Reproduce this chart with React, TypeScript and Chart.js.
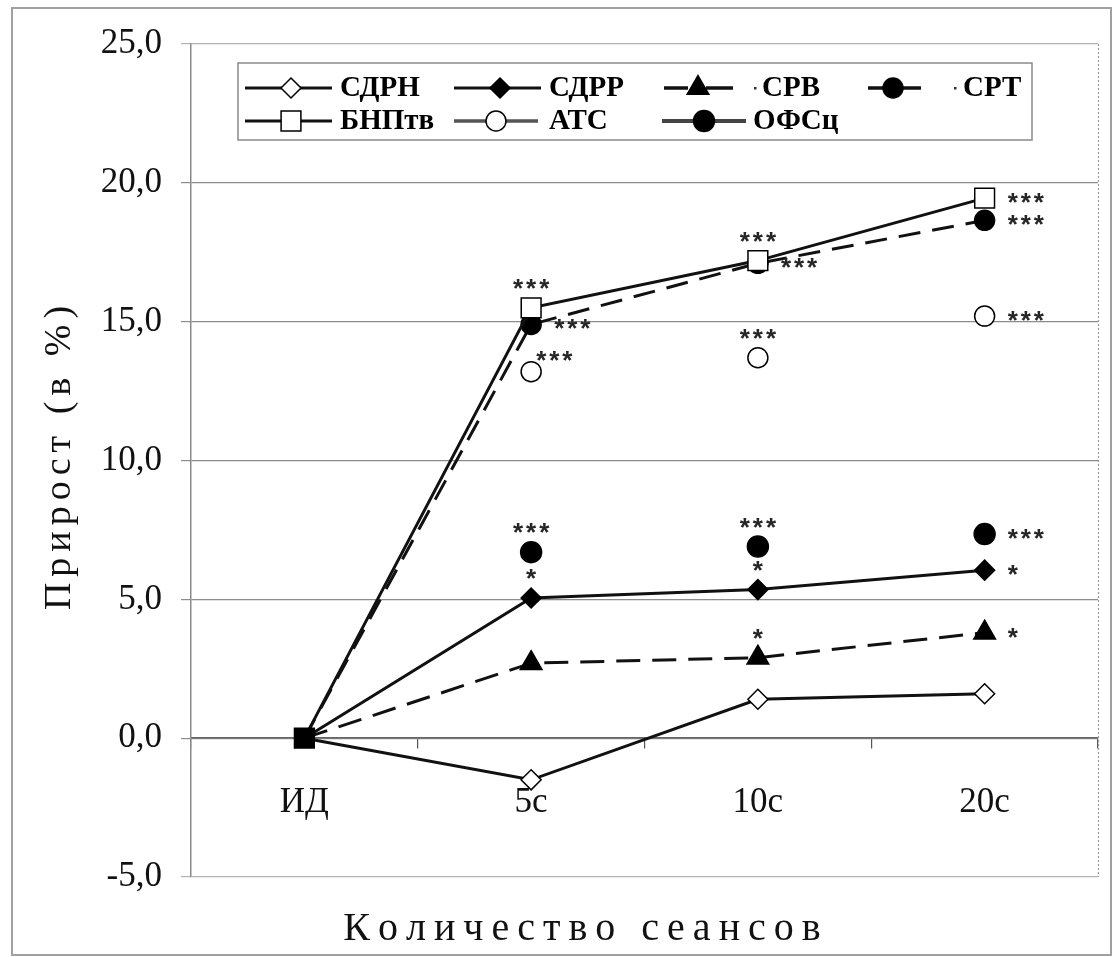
import React, { useEffect, useRef } from 'react';
import { Chart, registerables } from 'chart.js';

Chart.register(...registerables);

const CANVAS_W = 1115;
const CANVAS_H = 957;

// ---------- data ----------
const categories = ['ИД', '5с', '10с', '20с'];
const yMin = -5;
const yMax = 25;
const yStep = 5;

const sdrnValues = [0, -1.5, 1.4, 1.6];
const sdrrValues = [0, 5.05, 5.35, 6.05];
const srvValues = [0, 2.7, 2.9, 3.8];
const srtValues = [0, 14.9, 17.1, 18.65];
const bnpValues = [0, 15.5, 17.2, 19.45];
const atsValues = [0, 13.2, 13.7, 15.2];
const ofsValues = [0, 6.7, 6.9, 7.35];

const seriesNames = ['СДРН', 'СДРР', 'СРВ', 'СРТ', 'БНПтв', 'АТС', 'ОФСц'];
const seriesValues = [sdrnValues, sdrrValues, srvValues, srtValues, bnpValues, atsValues, ofsValues];

// significance marks: series, category index, text, placement
const markSeries = ['БНПтв', 'СРТ', 'АТС', 'БНПтв', 'СРТ', 'АТС', 'БНПтв', 'СРТ', 'АТС', 'ОФСц', 'ОФСц', 'ОФСц', 'СДРР', 'СДРР', 'СДРР', 'СРВ', 'СРВ'];
const markCategory = [1, 1, 1, 2, 2, 2, 3, 3, 3, 1, 2, 3, 1, 2, 3, 2, 3];
const markText = ['***', '***', '***', '***', '***', '***', '***', '***', '***', '***', '***', '***', '*', '*', '*', '*', '*'];
const markPlace = ['above', 'right', 'upRight', 'above', 'right', 'above', 'right', 'right', 'right', 'above', 'above', 'right', 'above', 'above', 'right', 'above', 'right'];

const yTitle = 'Прирост (в %)';
const xTitle = 'Количество сеансов';

// ---------- styles ----------
const LINE = '#111111';
const GRID = '#8c8c8c';

const seriesLook = [
  { shape: 'rectRot', fill: '#ffffff', r: 10, dash: [] as number[], line: true, legendColor: LINE, legendWidth: 3 },
  { shape: 'rectRot', fill: '#000000', r: 10, dash: [] as number[], line: true, legendColor: LINE, legendWidth: 3 },
  { shape: 'triangle', fill: '#000000', r: 12.5, dash: [24, 12], line: true, legendColor: LINE, legendWidth: 3.5 },
  { shape: 'circle', fill: '#000000', r: 10, dash: [22, 12], line: true, legendColor: LINE, legendWidth: 3.5 },
  { shape: 'rect', fill: '#ffffff', r: 14, dash: [] as number[], line: true, legendColor: LINE, legendWidth: 3 },
  { shape: 'circle', fill: '#ffffff', r: 10, dash: [] as number[], line: false, legendColor: '#555555', legendWidth: 3.5 },
  { shape: 'circle', fill: '#000000', r: 10.5, dash: [] as number[], line: false, legendColor: '#444444', legendWidth: 4 },
];

const legendBox = { x: 238, y: 63, w: 794, h: 77 };
const legendRows = [88, 121];
const legendLayout = [
  { row: 0, x0: 245, x1: 332, mx: 291, tx: 340, dot: 0 },
  { row: 0, x0: 454, x1: 541, mx: 500, tx: 549, dot: 0 },
  { row: 0, x0: 664, x1: 733, mx: 698, tx: 762, dot: 755 },
  { row: 0, x0: 868, x1: 921, mx: 893, tx: 963, dot: 955 },
  { row: 1, x0: 245, x1: 332, mx: 291, tx: 340, dot: 0 },
  { row: 1, x0: 454, x1: 538, mx: 496, tx: 549, dot: 0 },
  { row: 1, x0: 662, x1: 746, mx: 704, tx: 753, dot: 0 },
];

const markOffsets: Record<string, { dx: number; dy: number; align: string }> = {
  above: { dx: 0, dy: -24, align: 'center' },
  right: { dx: 23, dy: 0, align: 'left' },
  upRight: { dx: 5, dy: -16, align: 'left' },
};

const SERIF = '"Liberation Serif", "Times New Roman", serif';
const SANS = '"Liberation Sans", Arial, sans-serif';

function drawSpaced(ctx: CanvasRenderingContext2D, text: string, x: number, y: number, spacing: number, align: string) {
  const chars = Array.from(text);
  const widths = chars.map((c) => ctx.measureText(c).width);
  const total = widths.reduce((a, b) => a + b, 0) + spacing * (chars.length - 1);
  let cx = align === 'center' ? x - total / 2 : x;
  ctx.textAlign = 'left';
  chars.forEach((c, i) => {
    ctx.fillText(c, cx, y);
    cx += widths[i] + spacing;
  });
}

function drawMarker(ctx: CanvasRenderingContext2D, shape: string, x: number, y: number, r: number, fill: string) {
  ctx.save();
  ctx.setLineDash([]);
  ctx.beginPath();
  if (shape === 'circle') {
    ctx.arc(x, y, r, 0, Math.PI * 2);
  } else if (shape === 'rect') {
    const s = Math.SQRT1_2 * r;
    ctx.rect(x - s, y - s, 2 * s, 2 * s);
  } else if (shape === 'rectRot') {
    ctx.moveTo(x, y - r);
    ctx.lineTo(x + r, y);
    ctx.lineTo(x, y + r);
    ctx.lineTo(x - r, y);
    ctx.closePath();
  } else if (shape === 'triangle') {
    let a = 0;
    ctx.moveTo(x + Math.sin(a) * r, y - Math.cos(a) * r);
    a += (2 * Math.PI) / 3;
    ctx.lineTo(x + Math.sin(a) * r, y - Math.cos(a) * r);
    a += (2 * Math.PI) / 3;
    ctx.lineTo(x + Math.sin(a) * r, y - Math.cos(a) * r);
    ctx.closePath();
  }
  ctx.fillStyle = fill;
  ctx.fill();
  ctx.lineWidth = 1.5;
  ctx.strokeStyle = '#000';
  ctx.stroke();
  ctx.restore();
}

const decorPlugin = {
  id: 'decor',
  beforeDraw(chart: any) {
    const ctx: CanvasRenderingContext2D = chart.ctx;
    ctx.save();
    ctx.fillStyle = '#ffffff';
    ctx.fillRect(0, 0, chart.width, chart.height);
    ctx.strokeStyle = '#a0a0a0';
    ctx.lineWidth = 2;
    ctx.strokeRect(12, 8, 1099, 947);
    ctx.restore();
  },
  afterDraw(chart: any) {
    const ctx: CanvasRenderingContext2D = chart.ctx;
    const area = chart.chartArea;
    ctx.save();

    // right border of plot area (dotted)
    ctx.strokeStyle = '#9a9a9a';
    ctx.lineWidth = 1.2;
    ctx.setLineDash([2, 2]);
    ctx.beginPath();
    ctx.moveTo(area.right + 0.5, area.top);
    ctx.lineTo(area.right + 0.5, area.bottom);
    ctx.stroke();
    ctx.setLineDash([]);

    // significance marks
    ctx.fillStyle = '#262626';
    ctx.font = `bold 26px ${SANS}`;
    ctx.textBaseline = 'alphabetic';
    markSeries.forEach((name, i) => {
      const ds = seriesNames.indexOf(name);
      const pt = chart.getDatasetMeta(ds).data[markCategory[i]];
      if (!pt) return;
      const off = markOffsets[markPlace[i]];
      const m = ctx.measureText('*');
      const glyphCenter = (m.actualBoundingBoxAscent - m.actualBoundingBoxDescent) / 2;
      drawSpaced(ctx, markText[i], pt.x + off.dx, pt.y + off.dy + glyphCenter, 3, off.align);
    });

    // legend
    ctx.fillStyle = '#ffffff';
    ctx.fillRect(legendBox.x, legendBox.y, legendBox.w, legendBox.h);
    ctx.strokeStyle = '#8a8a8a';
    ctx.lineWidth = 1.5;
    ctx.strokeRect(legendBox.x, legendBox.y, legendBox.w, legendBox.h);
    seriesNames.forEach((name, i) => {
      const lay = legendLayout[i];
      const look = seriesLook[i];
      const y = legendRows[lay.row];
      ctx.strokeStyle = look.legendColor;
      ctx.lineWidth = look.legendWidth;
      ctx.beginPath();
      if (look.dash.length) {
        ctx.moveTo(lay.x0, y);
        ctx.lineTo(lay.mx - 10, y);
        ctx.moveTo(lay.mx + 8, y);
        ctx.lineTo(lay.x1, y);
      } else {
        ctx.moveTo(lay.x0, y);
        ctx.lineTo(lay.x1, y);
      }
      ctx.stroke();
      drawMarker(ctx, look.shape, lay.mx, y, look.r, look.fill);
      if (lay.dot) {
        ctx.fillStyle = '#333';
        ctx.fillRect(lay.dot - 1, y - 1, 2.5, 2.5);
      }
      ctx.fillStyle = '#000';
      ctx.font = `bold 29px ${SERIF}`;
      ctx.textBaseline = 'middle';
      ctx.textAlign = 'left';
      ctx.fillText(name, lay.tx, y + 1);
    });

    // axis titles
    ctx.fillStyle = '#111';
    ctx.textBaseline = 'alphabetic';
    ctx.font = `40px ${SERIF}`;
    drawSpaced(ctx, xTitle, 582, 940, 8, 'center');

    ctx.save();
    ctx.translate(70, 458);
    ctx.rotate(-Math.PI / 2);
    ctx.font = `38px ${SERIF}`;
    drawSpaced(ctx, yTitle, 0, 0, 6, 'center');
    ctx.restore();

    ctx.restore();
  },
};

export default function App() {
  const canvasRef = useRef<HTMLCanvasElement | null>(null);

  useEffect(() => {
    const canvas = canvasRef.current;
    if (!canvas) return;

    const datasets = seriesNames.map((name, i) => {
      const look = seriesLook[i];
      const values = seriesValues[i];
      const isBase = name === 'БНПтв';
      return {
        label: name,
        data: values,
        showLine: look.line,
        borderColor: LINE,
        borderWidth: 3,
        borderDash: look.dash,
        fill: false,
        tension: 0,
        pointStyle: look.shape,
        pointRadius: values.map((_, j) => (j === 0 ? (isBase ? look.r : 0) : look.r)),
        pointBackgroundColor: values.map((_, j) => (j === 0 && isBase ? '#000000' : look.fill)),
        pointBorderColor: '#000000',
        pointBorderWidth: 1.5,
        order: isBase ? 0 : name === 'СРТ' ? 1 : 2 + i,
      };
    });

    const chart = new Chart(canvas, {
      type: 'line',
      data: { labels: categories, datasets: datasets as any },
      plugins: [decorPlugin],
      options: {
        responsive: false,
        maintainAspectRatio: false,
        devicePixelRatio: 1,
        animation: false,
        events: [],
        layout: { padding: { left: 0, right: CANVAS_W - 1098, top: 44, bottom: CANVAS_H - 877 } },
        plugins: {
          legend: { display: false },
          tooltip: { enabled: false },
          title: { display: false },
        },
        scales: {
          x: {
            type: 'category',
            position: { y: 0 } as any,
            offset: true,
            grid: {
              display: true,
              drawOnChartArea: false,
              drawTicks: true,
              tickLength: 10,
              offset: true,
              color: '#555555',
              lineWidth: 1.2,
            },
            border: { display: true, color: '#666666', width: 1.5 },
            ticks: {
              color: '#111',
              font: { family: SERIF, size: 35 },
              padding: 34,
              maxRotation: 0,
              autoSkip: false,
            },
          },
          y: {
            type: 'linear',
            min: yMin,
            max: yMax,
            afterFit: (scale: any) => {
              scale.width = 191;
            },
            grid: {
              color: (c: any) => (c.tick && (c.tick.value === yMax || c.tick.value === yMin) ? '#b4b4b4' : GRID),
              lineWidth: 1.2,
              tickLength: 10,
              drawTicks: true,
            },
            border: { display: true, color: '#8a8a8a', width: 1.5 },
            ticks: {
              stepSize: yStep,
              color: '#111',
              font: { family: SERIF, size: 35 },
              padding: 19,
              callback: (v: any) => Number(v).toFixed(1).replace('.', ','),
            },
          },
        },
      } as any,
    });

    return () => chart.destroy();
  }, []);

  return (
    <div style={{ position: 'absolute', left: 0, top: 0, width: CANVAS_W, height: CANVAS_H, background: '#fff' }}>
      <canvas ref={canvasRef} width={CANVAS_W} height={CANVAS_H} style={{ width: CANVAS_W, height: CANVAS_H, display: 'block' }} />
    </div>
  );
}
